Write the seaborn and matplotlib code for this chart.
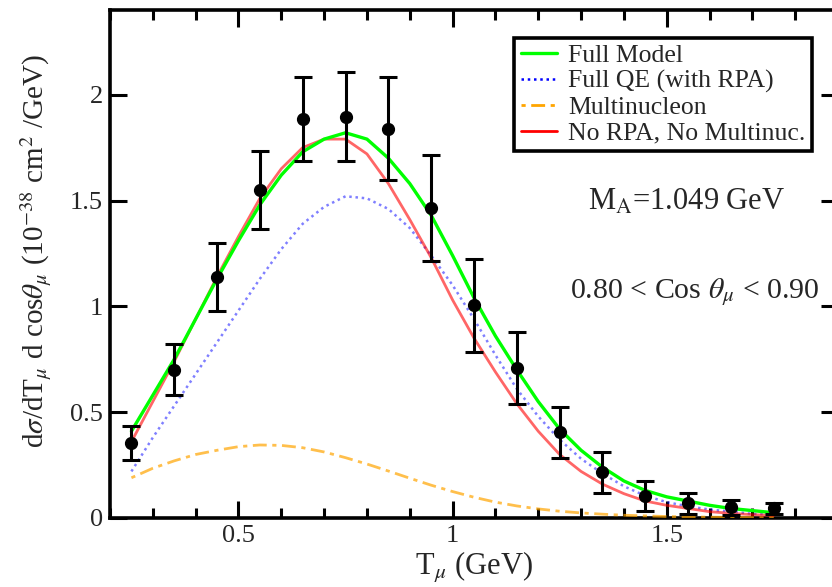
import matplotlib
matplotlib.use("Agg")
import matplotlib.pyplot as plt
import seaborn as sns
import numpy as np
import pandas as pd
from matplotlib.ticker import MultipleLocator, FixedLocator

# ---- data ----
t_mu = [0.25, 0.30, 0.35, 0.40, 0.45, 0.50, 0.55, 0.60, 0.65, 0.70, 0.75, 0.80,
        0.85, 0.90, 0.95, 1.00, 1.05, 1.10, 1.15, 1.20, 1.25, 1.30, 1.35, 1.40,
        1.45, 1.50, 1.55, 1.60, 1.65, 1.70, 1.75]
full_model = [0.41, 0.58, 0.75, 0.94, 1.13, 1.31, 1.48, 1.62, 1.73, 1.79, 1.82, 1.79,
              1.70, 1.58, 1.43, 1.24, 1.04, 0.86, 0.70, 0.55, 0.42, 0.32, 0.24, 0.175,
              0.13, 0.10, 0.08, 0.06, 0.045, 0.035, 0.025]
full_qe = [0.22, 0.38, 0.53, 0.68, 0.83, 0.98, 1.13, 1.27, 1.39, 1.47, 1.52, 1.51,
           1.46, 1.37, 1.24, 1.10, 0.94, 0.77, 0.61, 0.48, 0.37, 0.28, 0.21, 0.15,
           0.105, 0.075, 0.055, 0.04, 0.03, 0.02, 0.015]
multinucleon = [0.19, 0.235, 0.27, 0.30, 0.32, 0.337, 0.345, 0.343, 0.332, 0.312, 0.285, 0.255,
                0.222, 0.188, 0.155, 0.125, 0.098, 0.075, 0.057, 0.043, 0.032, 0.024, 0.018, 0.013,
                0.010, 0.007, 0.005, 0.004, 0.003, 0.002, 0.002]
no_rpa = [0.36, 0.55, 0.74, 0.94, 1.14, 1.33, 1.51, 1.65, 1.75, 1.79, 1.79, 1.72,
          1.58, 1.41, 1.23, 1.03, 0.85, 0.69, 0.54, 0.41, 0.30, 0.22, 0.16, 0.115,
          0.08, 0.06, 0.045, 0.03, 0.022, 0.016, 0.012]

data_x = [0.25, 0.35, 0.45, 0.55, 0.65, 0.75, 0.85, 0.95, 1.05, 1.15, 1.25, 1.35,
          1.45, 1.55, 1.65, 1.75]
data_y = [0.355, 0.70, 1.14, 1.55, 1.885, 1.895, 1.84, 1.465, 1.005, 0.71, 0.405, 0.215,
          0.105, 0.07, 0.05, 0.045]
data_err = [0.08, 0.12, 0.16, 0.185, 0.20, 0.21, 0.245, 0.25, 0.22, 0.17, 0.12, 0.095,
            0.07, 0.05, 0.035, 0.025]

xticks = [0.5, 1.0, 1.5]
xtick_labels = ["0.5", "1", "1.5"]
yticks = [0, 0.5, 1.0, 1.5, 2.0]
ytick_labels = ["0", "0.5", "1", "1.5", "2"]

# ---- style ----
sns.set_style("ticks")
plt.rcParams['font.family'] = ['Liberation Serif', 'DejaVu Serif']
plt.rcParams['mathtext.fontset'] = 'stix'

fig = plt.figure(figsize=(8.32, 5.87), dpi=100)
ax = fig.add_axes([110/832, (587-518)/587, (838-110)/832, (518-10)/587])

df = pd.DataFrame({"T": t_mu, "full": full_model, "qe": full_qe,
                   "mn": multinucleon, "norpa": no_rpa})

sns.lineplot(data=df, x="T", y="full", ax=ax, color="#00ff00", lw=2.4,
             label="Full Model", zorder=4)
sns.lineplot(data=df, x="T", y="qe", ax=ax, color="#0000ff", lw=1.8,
             linestyle=(0, (1, 1.5)), alpha=0.5, label="Full QE (with RPA)", zorder=3)
sns.lineplot(data=df, x="T", y="mn", ax=ax, color="#ffa500", lw=2.0,
             linestyle=(0, (1.5, 2, 5, 2)), alpha=0.7, label="Multinucleon", zorder=3)
sns.lineplot(data=df, x="T", y="norpa", ax=ax, color="#ff0000", lw=2.0,
             alpha=0.6, label="No RPA, No Multinuc.", zorder=3)

ax.errorbar(data_x, data_y, yerr=data_err, fmt='o', color='black', ms=8.5,
            elinewidth=2.2, capsize=6.5, capthick=2.2, zorder=5)

ax.set_xlim(0.2, 1.9)
ax.set_ylim(0, 2.4)
ax.xaxis.set_major_locator(FixedLocator(xticks))
ax.set_xticklabels(xtick_labels)
ax.xaxis.set_minor_locator(MultipleLocator(0.1))
ax.yaxis.set_major_locator(FixedLocator(yticks))
ax.set_yticklabels(ytick_labels)

ax.tick_params(which='both', direction='in', top=True, right=True, width=2.2,
               labelsize=19, color='black')
ax.tick_params(which='major', length=12, pad=5)
ax.tick_params(which='minor', length=7)
for s in ax.spines.values():
    s.set_linewidth(2.6)
    s.set_color('black')

ax.set_xlabel(r"T$_\mu$ (GeV)", fontsize=22)
ax.set_ylabel(r"d$\sigma$/dT$_\mu$ d cos$\theta_\mu$ (10$^{-38}$ cm$^2$ /GeV)", fontsize=21)
ax.xaxis.set_label_coords(0.5, -0.063)
ax.yaxis.set_label_coords(-0.077, 0.525)

ax.text((588-110)/728, (518-210)/508, r"M$_\mathrm{A}$=1.049 GeV", transform=ax.transAxes,
        fontsize=22, va='baseline', ha='left')
ax.text((570-110)/728, (518-298)/508, r"0.80 < Cos $\theta_\mu$ < 0.90", transform=ax.transAxes,
        fontsize=21.5, va='baseline', ha='left')

leg = ax.legend(loc='upper right', bbox_to_anchor=((812-110)/728, (518-38)/508),
                fontsize=18.5, frameon=True, fancybox=False, framealpha=1,
                edgecolor='black', handlelength=1.4, borderpad=0.25, labelspacing=0.1,
                handletextpad=0.45, borderaxespad=0)
leg.get_frame().set_linewidth(2.6)
for lh in leg.get_lines():
    lh.set_alpha(1)

fig.savefig("out.png", dpi=100)
